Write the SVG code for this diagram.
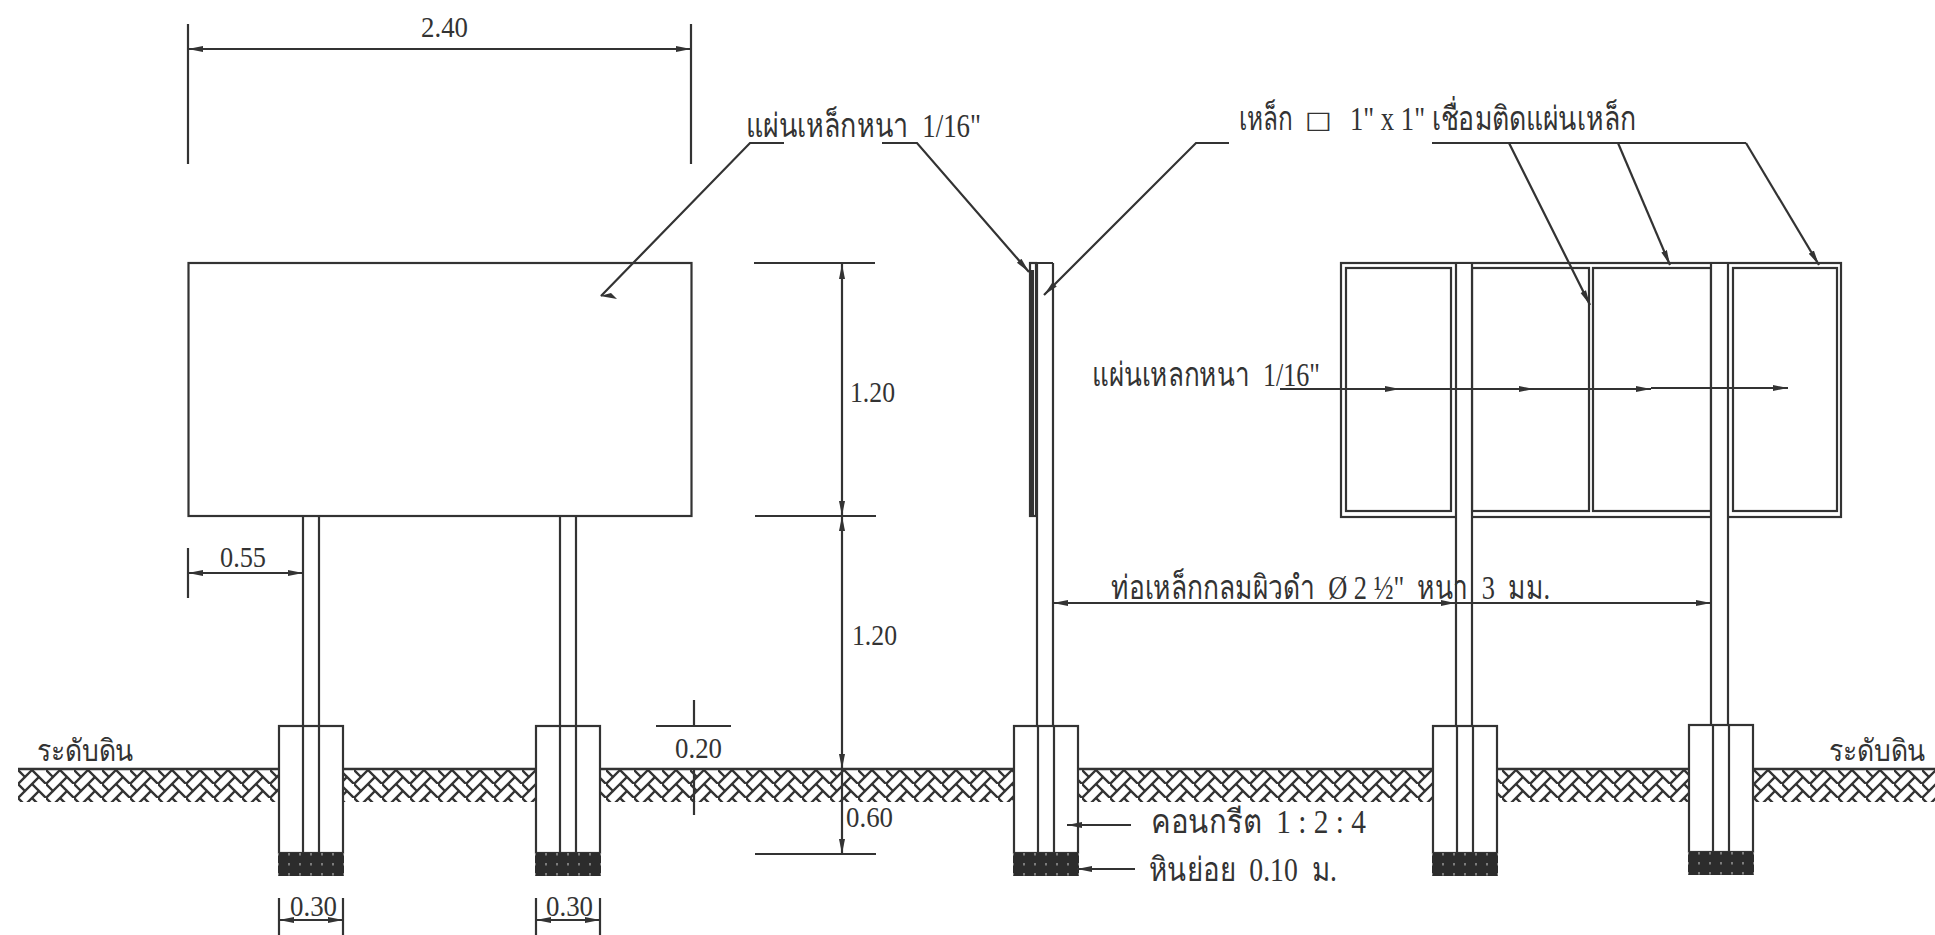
<svg xmlns="http://www.w3.org/2000/svg" width="1935" height="935" viewBox="0 0 1935 935">
<style>
.l{fill:none;stroke:#333;stroke-width:2.2}
.w{fill:#fff;stroke:#333;stroke-width:2.2}
.t{font-family:"Liberation Serif","Noto Sans",serif;font-size:29px;fill:#333}
.th{font-family:"Liberation Serif","Noto Sans",serif;font-size:33px;fill:#333;white-space:pre}
.g{font-family:"Liberation Serif","Noto Sans",serif;font-size:30px;fill:#333}
.box{font-family:"DejaVu Sans",sans-serif;font-size:24px;font-weight:bold;fill:#333}
.a{marker-start:url(#as);marker-end:url(#ae)}
.e{marker-end:url(#ae)}
</style>
<defs>
<marker id="ae" markerUnits="userSpaceOnUse" markerWidth="16" markerHeight="8" refX="15" refY="4" orient="auto"><path d="M0 1L15 4L0 7Z" fill="#333"/></marker>
<marker id="as" markerUnits="userSpaceOnUse" markerWidth="16" markerHeight="8" refX="1" refY="4" orient="auto"><path d="M16 1L1 4L16 7Z" fill="#333"/></marker>
<pattern id="herring" patternUnits="userSpaceOnUse" width="28" height="14" patternTransform="translate(18 770)">
<path d="M0 14L14 0M0 0L7 7M14 0L28 14M21 7L14 14" fill="none" stroke="#333" stroke-width="2.4" stroke-linecap="square"/>
</pattern>
<pattern id="stones" patternUnits="userSpaceOnUse" width="11" height="10" patternTransform="translate(280 854)">
<path d="M5 3V5.500" stroke="#ccc" stroke-width="1"/>
</pattern>
<g id="foot"><rect class="w" x="0" y="0" width="64" height="127"/><rect x="-1" y="127" width="66" height="23" fill="#2c2c2c"/><rect x="-1" y="127" width="66" height="23" fill="url(#stones)"/><path class="l" d="M24 0V127M40 0V127"/></g>
</defs>
<rect width="1935" height="935" fill="#fff"/>
<g id="ground">
<rect x="18" y="770" width="1917" height="32" fill="url(#herring)"/>
<path d="M18 769H1935" stroke="#333" stroke-width="2.6"/>
<text class="g" x="37" y="761" textLength="97" lengthAdjust="spacingAndGlyphs">ระดับดิน</text>
<text class="g" x="1829" y="761" textLength="97" lengthAdjust="spacingAndGlyphs">ระดับดิน</text>
</g>
<g id="front-view">
<path class="l" d="M303 516V726M319 516V726M560 516V726M576 516V726"/>
<rect class="w" x="188.500" y="263" width="503" height="253"/>
<use href="#foot" x="279" y="726"/>
<use href="#foot" x="536" y="726"/>
</g>
<g id="side-view">
<rect class="w" x="1030" y="263" width="6" height="253"/>
<rect x="1029" y="270" width="5" height="246" fill="#333"/>
<path class="l" d="M1037 263V726M1053 263V726M1030 263H1053"/>
<use href="#foot" x="1014" y="726"/>
</g>
<g id="rear-view">
<rect class="w" x="1341" y="263" width="500" height="254"/>
<rect class="w" x="1346" y="268" width="105" height="243"/>
<rect class="w" x="1472" y="268" width="117" height="243"/>
<rect class="w" x="1593" y="268" width="118" height="243"/>
<rect class="w" x="1733" y="268" width="104" height="243"/>
<rect x="1457" y="264" width="15" height="460" fill="#fff"/>
<rect x="1712" y="264" width="15" height="460" fill="#fff"/>
<path class="l" d="M1456 264V726M1472 264V726M1711 264V726M1728 264V726"/>
<use href="#foot" x="1433" y="726"/>
<use href="#foot" x="1689" y="725"/>
</g>
<g id="connectors">
<path class="l a" d="M188 49H691"/>
<path class="l" d="M188 24V164M691 24V164"/>
<path class="l a" d="M188 573H303"/>
<path class="l" d="M188 548V598"/>
<path class="l" d="M754 263H875M755 516H876M755 854H876"/>
<path class="l a" d="M842 264V516"/>
<path class="l a" d="M842 516V769"/>
<path class="l e" d="M842 769V854"/>
<path class="l" d="M656 726H731M694 700V726M694 769V815"/>
<path class="l" d="M279 898V935M343 898V935M536 898V935M600 898V935"/>
<path class="l a" d="M279 920H343"/>
<path class="l a" d="M536 920H600"/>
<path class="l" d="M784 143H750L601 296"/>
<path d="M600 296L617 299L611 293Z" fill="#333"/>
<path class="l e" d="M882 143H917L1029 272"/>
<path class="l e" d="M1229 143H1196L1044 295"/>
<path class="l" d="M1432 143H1746"/>
<path class="l e" d="M1509 143L1590 305"/>
<path class="l e" d="M1618 143L1670 265"/>
<path class="l e" d="M1746 143L1819 265"/>
<path class="l a" d="M1053 603H1711"/>
<path class="l e" d="M1280 389H1400"/>
<path class="l e" d="M1400 389H1534"/>
<path class="l e" d="M1534 389H1651"/>
<path class="l e" d="M1651 388H1788"/>
<path class="l e" d="M1131 825H1067"/>
<path class="l e" d="M1135 869H1077"/>
<path d="M1441 600L1455 603L1441 606Z" fill="#333"/>
</g>
<g id="labels">
<text class="t" x="421" y="37" textLength="47" lengthAdjust="spacingAndGlyphs">2.40</text>
<text class="t" x="220" y="567" textLength="46" lengthAdjust="spacingAndGlyphs">0.55</text>
<text class="t" x="850" y="402" textLength="45" lengthAdjust="spacingAndGlyphs">1.20</text>
<text class="t" x="852" y="645" textLength="45" lengthAdjust="spacingAndGlyphs">1.20</text>
<text class="t" x="675" y="758" textLength="47" lengthAdjust="spacingAndGlyphs">0.20</text>
<text class="t" x="846" y="827" textLength="47" lengthAdjust="spacingAndGlyphs">0.60</text>
<text class="t" x="290" y="916" textLength="47" lengthAdjust="spacingAndGlyphs">0.30</text>
<text class="t" x="546" y="916" textLength="47" lengthAdjust="spacingAndGlyphs">0.30</text>
<text class="th" x="746" y="137" textLength="235" lengthAdjust="spacingAndGlyphs">แผ่นเหล็กหนา  1/16"</text>
<text class="th" x="1239" y="130" textLength="54" lengthAdjust="spacingAndGlyphs">เหล็ก</text>
<text class="box" x="1305" y="128" textLength="27" lengthAdjust="spacingAndGlyphs">□</text>
<text class="th" x="1350" y="130" textLength="286" lengthAdjust="spacingAndGlyphs">1" x 1" เชื่อมติดแผ่นเหล็ก</text>
<text class="th" x="1092" y="386" textLength="228" lengthAdjust="spacingAndGlyphs">แผ่นเหลกหนา  1/16"</text>
<text class="th" x="1111" y="599" textLength="439" lengthAdjust="spacingAndGlyphs">ท่อเหล็กกลมผิวดำ  Ø 2 ½"  หนา  3  มม.</text>
<text class="th" x="1151" y="833" textLength="215" lengthAdjust="spacingAndGlyphs">คอนกรีต  1 : 2 : 4</text>
<text class="th" x="1149" y="881" textLength="188" lengthAdjust="spacingAndGlyphs">หินย่อย  0.10  ม.</text>
</g>
</svg>
